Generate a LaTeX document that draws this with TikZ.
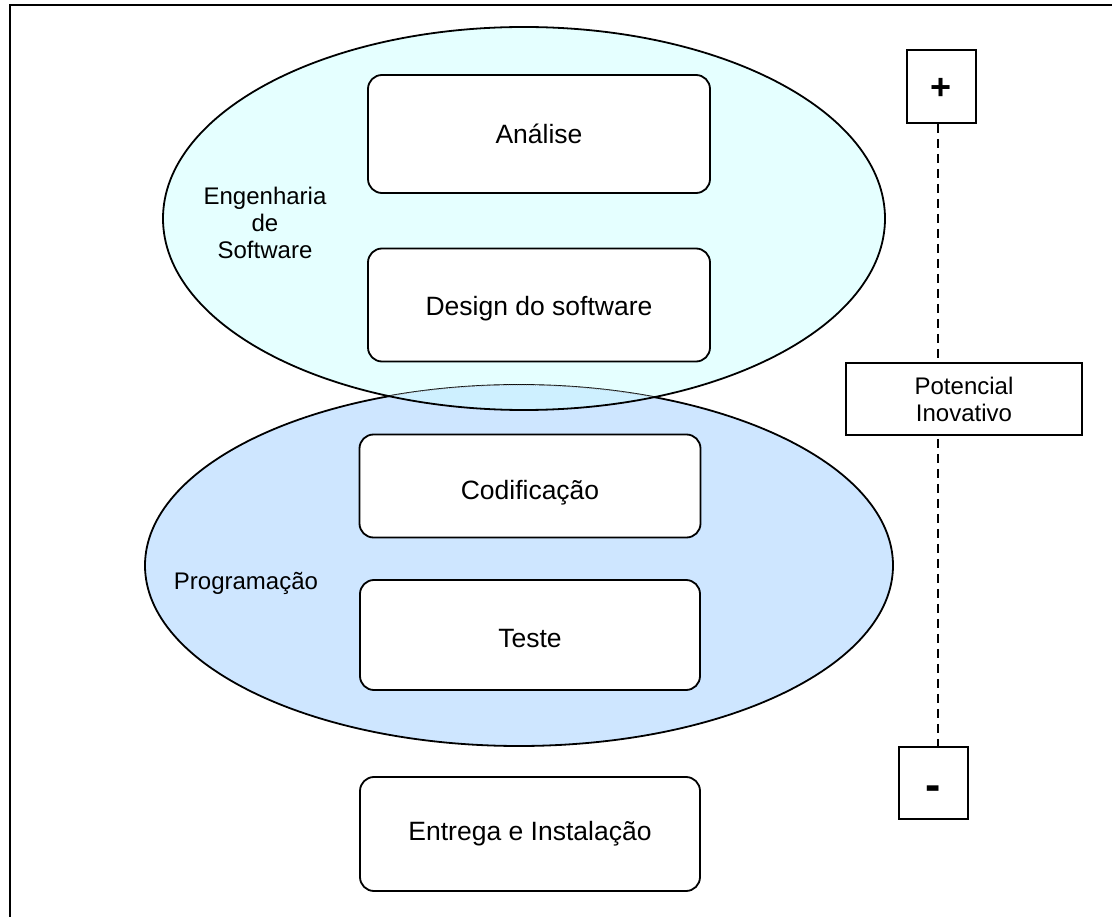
\documentclass[tikz,border=0pt]{standalone}
\usepackage{fontspec}
\setmainfont{Liberation Sans}
\usetikzlibrary{calc}
\definecolor{engfill}{RGB}{229,255,255}
\definecolor{progfill}{RGB}{206,230,255}
\definecolor{mixfill}{RGB}{206,240,255}
\newcommand{\lowertext}[2]{\raisebox{-#1}[\height][\depth]{#2}}
\begin{document}
\begin{tikzpicture}[x=1pt,y=-1pt,
  stagebox/.style={draw, line width=1.8pt, rounded corners=14pt, fill=white,
    minimum width=342pt, minimum height=113pt, inner sep=0pt,
    font=\fontsize{26.5}{30}\selectfont},
  signbox/.style={draw, line width=1.8pt, fill=white, minimum width=69pt,
    minimum height=73pt, inner sep=0pt, font=\fontsize{36}{40}\selectfont\bfseries},
  lbl/.style={font=\fontsize{24}{27}\selectfont, align=center, inner sep=0pt},
  frame/.style={line width=1.8pt},
  ovalline/.style={line width=1.8pt},
  scaleline/.style={dash pattern=on 9pt off 6pt, line width=1.5pt}
  ]
\useasboundingbox (0,0) rectangle (1112,917);
% outer frame (only top and left edges visible)
\draw[frame] (10,917) -- (10,5) -- (1112,5);

% ellipses
\fill[engfill] (524,218.5) ellipse [x radius=361pt, y radius=191.5pt];
\path[fill=progfill, draw, ovalline] (519,565.5) ellipse [x radius=374pt, y radius=180.5pt];
\begin{scope}
  \clip (524,218.5) ellipse [x radius=361pt, y radius=191.5pt];
  \fill[mixfill] (519,565.5) ellipse [x radius=374pt, y radius=180.5pt];
  \draw[gray, line width=0.8pt, densely dotted] (519,565.5) ellipse [x radius=374pt, y radius=180.5pt];
\end{scope}
\draw[ovalline] (524,218.5) ellipse [x radius=361pt, y radius=191.5pt];

% labels in ellipses
\node[lbl] (eng) at (265,223) {Engenharia\\de\\Software};
\node[lbl] (prog) at (246,583) {Programação};

% stage boxes
\node[stagebox, minimum height=118pt] (analise) at (539,134) {Análise};
\node[stagebox] (design) at (539,305) {\lowertext{4pt}{Design do software}};
\node[stagebox, minimum width=341pt, minimum height=103pt] (codif) at (530,486) {\lowertext{7pt}{Codificação}};
\node[stagebox, minimum width=340pt, minimum height=110pt] (teste) at (530,635) {\lowertext{4pt}{Teste}};
\node[stagebox, minimum width=340pt, minimum height=114pt] (entrega) at (530,834) {Entrega e Instalação};

% scale
\coordinate (dx) at (938,0);
\node[signbox] (plus) at (941.5,86.5) {\lowertext{2pt}{+}};
\node[signbox, minimum height=72pt, font=\fontsize{46}{50}\selectfont\bfseries] (minus) at (933.5,783) {\lowertext{10pt}{-}};
\draw[scaleline] (plus.south -| dx) -- (minus.north -| dx);
\node[draw, line width=1.5pt, fill=white, minimum width=236pt, minimum height=72pt,
  lbl] (pot) at (964,399) {Potencial\\Inovativo};
\end{tikzpicture}
\end{document}
